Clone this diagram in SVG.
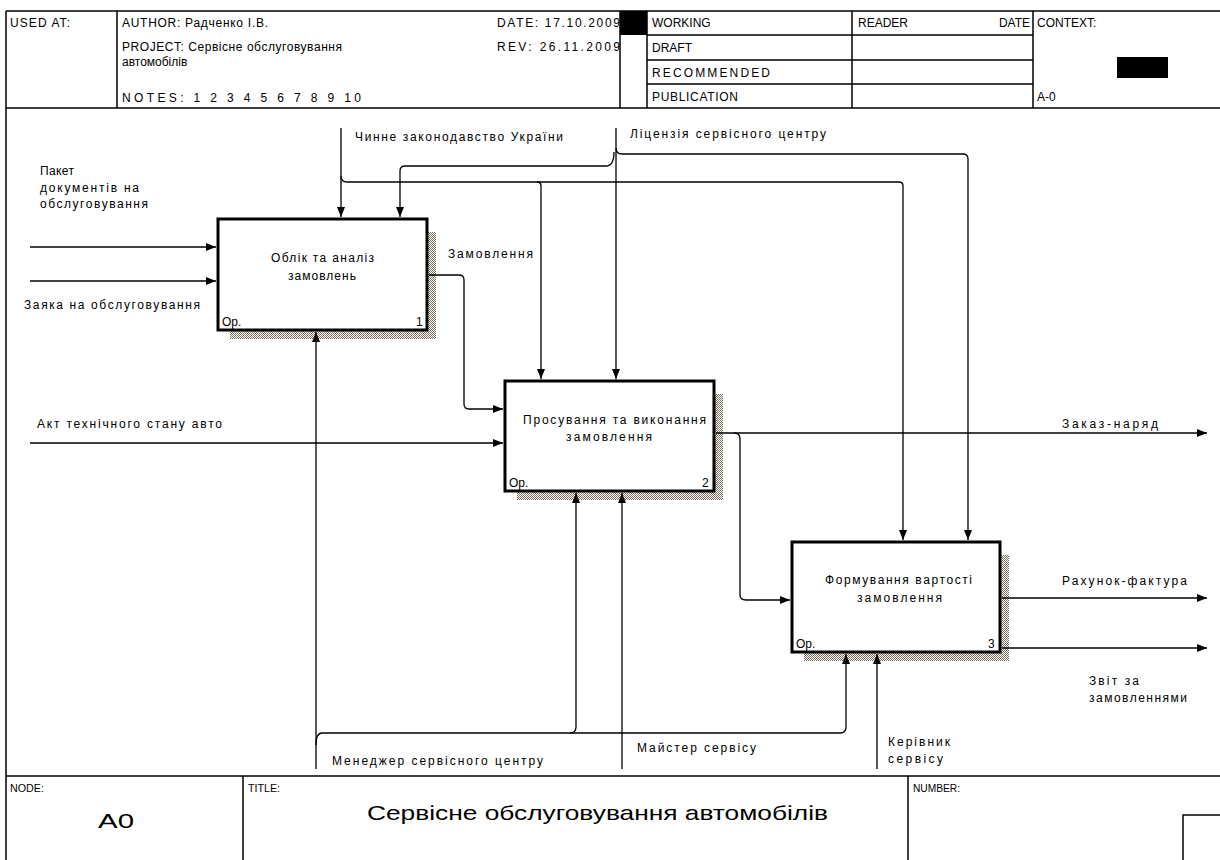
<svg xmlns="http://www.w3.org/2000/svg" width="1220" height="860" viewBox="0 0 1220 860">
<style>
text{font-family:"Liberation Sans",Arial,sans-serif;fill:#000;}
.h{font-size:12px;}
.t{font-size:12px;}
.f{font-size:10px;}
.frame{fill:none;stroke:#000;stroke-width:1.5;}
.box{fill:#fff;stroke:#000;stroke-width:3;}
.sh{fill:url(#hatch);}
.c{fill:none;stroke:#000;stroke-width:1.3;}
.a{marker-end:url(#arr);}
</style>
<defs>
<pattern id="hatch" width="2" height="2" patternUnits="userSpaceOnUse">
<rect width="2" height="2" fill="#fff"/>
<rect x="0" y="0" width="1" height="1" fill="#7d7262"/>
<rect x="1" y="1" width="1" height="1" fill="#7d7262"/>
</pattern>
<marker id="arr" viewBox="0 0 10 8" refX="10" refY="4" markerWidth="10" markerHeight="8" markerUnits="userSpaceOnUse" orient="auto">
<path d="M0,0 L10,4 L0,8 Z" fill="#000"/>
</marker>
</defs>
<rect width="1220" height="860" fill="#fff"/>

<g id="header">
<path class="frame" d="M6,11 H1220 M6,108 H1220 M6,11 V860 M117,11 V108 M620,11 V108 M647,11 V108 M852,11 V108 M1033,11 V108 M647,35 H1033 M647,60 H1033 M647,84 H1033"/>
<rect x="620" y="11" width="27" height="24" fill="#000"/>
<rect x="1117" y="57" width="51" height="21" fill="#000"/>
<text class="h" x="10" y="27" textLength="60" lengthAdjust="spacing">USED AT:</text>
<text class="h" x="122" y="27" textLength="146" lengthAdjust="spacing">AUTHOR:  Радченко І.В.</text>
<text class="h" x="122" y="51" textLength="220" lengthAdjust="spacing">PROJECT:  Сервісне обслуговування</text>
<text class="h" x="122" y="66">автомобілів</text>
<text class="h" x="122" y="102" textLength="239" lengthAdjust="spacing">NOTES:  1  2  3  4  5  6  7  8  9  10</text>
<text class="h" x="497" y="27" textLength="123" lengthAdjust="spacing">DATE: 17.10.2009</text>
<text class="h" x="497" y="51" textLength="123" lengthAdjust="spacing">REV:   26.11.2009</text>
<text class="h" x="652" y="27">WORKING</text>
<text class="h" x="652" y="52">DRAFT</text>
<text class="h" x="652" y="77" textLength="118" lengthAdjust="spacing">RECOMMENDED</text>
<text class="h" x="652" y="101" textLength="86" lengthAdjust="spacing">PUBLICATION</text>
<text class="h" x="858" y="27">READER</text>
<text class="h" x="1030" y="27" text-anchor="end">DATE</text>
<text class="h" x="1037" y="27">CONTEXT:</text>
<text class="h" x="1037" y="101">A-0</text>
</g>

<g id="footer">
<path class="frame" d="M6,776 H1220 M243,776 V860 M908,776 V860 M1183,860 V815 H1220"/>
<text class="f" x="10" y="792" textLength="34" lengthAdjust="spacingAndGlyphs">NODE:</text>
<text class="f" x="248" y="792" textLength="32" lengthAdjust="spacingAndGlyphs">TITLE:</text>
<text class="f" x="913" y="792" textLength="47" lengthAdjust="spacingAndGlyphs">NUMBER:</text>
<text x="98" y="828" style="font-size:20px" textLength="36" lengthAdjust="spacingAndGlyphs">A0</text>
<text x="367" y="820" style="font-size:21px" textLength="461" lengthAdjust="spacingAndGlyphs">Сервісне обслуговування автомобілів</text>
</g>

<g id="node1">
<path class="sh" d="M428,232 H436 V339 H230 V331 H428 Z"/>
<rect class="box" x="218" y="219" width="209" height="111"/>
<text class="t" x="271" y="262" textLength="103" lengthAdjust="spacing">Облік та аналіз</text>
<text class="t" x="288" y="280" textLength="68" lengthAdjust="spacing">замовлень</text>
<text class="t" x="222" y="326">Op.</text>
<text class="t" x="416" y="326">1</text>
</g>

<g id="node2">
<path class="sh" d="M715,394 H723 V500 H517 V492 H715 Z"/>
<rect class="box" x="505" y="381" width="209" height="110"/>
<text class="t" x="523" y="424" textLength="183" lengthAdjust="spacing">Просування та виконання</text>
<text class="t" x="566" y="441" textLength="86" lengthAdjust="spacing">замовлення</text>
<text class="t" x="509" y="487">Op.</text>
<text class="t" x="702" y="487">2</text>
</g>

<g id="node3">
<path class="sh" d="M1001,555 H1009 V661 H804 V653 H1001 Z"/>
<rect class="box" x="792" y="542" width="208" height="110"/>
<text class="t" x="825" y="584" textLength="147" lengthAdjust="spacing">Формування вартості</text>
<text class="t" x="857" y="602" textLength="85" lengthAdjust="spacing">замовлення</text>
<text class="t" x="796" y="648">Op.</text>
<text class="t" x="988" y="648">3</text>
</g>

<g id="connectors">
<path class="c a" d="M30,247 H216"/>
<path class="c a" d="M30,281 H216"/>
<path class="c a" d="M341,128 V217"/>
<path class="c" d="M341,176 Q341,182 347,182 H537 Q541,182 541,186"/>
<path class="c a" d="M541,186 V379"/>
<path class="c" d="M537,182 H899 Q903,182 903,186"/>
<path class="c a" d="M903,186 V540"/>
<path class="c a" d="M616,128 V379"/>
<path class="c" d="M616,148 Q616,154 622,154 H963 Q968,154 968,159"/>
<path class="c a" d="M968,159 V540"/>
<path class="c" d="M614,152 Q614,166 606,166 H405 Q400,166 400,171"/>
<path class="c a" d="M400,171 V217"/>
<path class="c" d="M429,275 H459 Q464,275 464,280 V404 Q464,409 469,409"/>
<path class="c a" d="M469,409 H503"/>
<path class="c a" d="M30,443 H503"/>
<path class="c a" d="M716,433 H1207"/>
<path class="c" d="M734,433 Q740,433 740,439 V595 Q740,600 746,600"/>
<path class="c a" d="M746,600 H790"/>
<path class="c a" d="M1002,598 H1207"/>
<path class="c a" d="M1002,648 H1207"/>
<path class="c a" d="M316,769 V332"/>
<path class="c" d="M316,745 Q316,733 322,733 H570 Q576,733 576,727"/>
<path class="c a" d="M576,727 V493"/>
<path class="c" d="M570,733 H840 Q846,733 846,727"/>
<path class="c a" d="M846,727 V654"/>
<path class="c a" d="M622,769 V493"/>
<path class="c a" d="M877,769 V654"/>
</g>

<g id="labels">
<text class="t" x="355" y="141" textLength="208" lengthAdjust="spacing">Чинне законодавство України</text>
<text class="t" x="630" y="138" textLength="196" lengthAdjust="spacing">Ліцензія сервісного центру</text>
<text class="t" x="40" y="175" textLength="34" lengthAdjust="spacing">Пакет</text>
<text class="t" x="40" y="192" textLength="99" lengthAdjust="spacing">документів на</text>
<text class="t" x="40" y="208" textLength="108" lengthAdjust="spacing">обслуговування</text>
<text class="t" x="24" y="309" textLength="176" lengthAdjust="spacing">Заяка на обслуговування</text>
<text class="t" x="448" y="258" textLength="85" lengthAdjust="spacing">Замовлення</text>
<text class="t" x="37" y="428" textLength="185" lengthAdjust="spacing">Акт технічного стану авто</text>
<text class="t" x="1062" y="428" textLength="96" lengthAdjust="spacing">Заказ-наряд</text>
<text class="t" x="1062" y="585" textLength="125" lengthAdjust="spacing">Рахунок-фактура</text>
<text class="t" x="1089" y="685" textLength="50" lengthAdjust="spacing">Звіт за</text>
<text class="t" x="1089" y="702" textLength="98" lengthAdjust="spacing">замовленнями</text>
<text class="t" x="332" y="765" textLength="211" lengthAdjust="spacing">Менеджер сервісного центру</text>
<text class="t" x="637" y="752" textLength="119" lengthAdjust="spacing">Майстер сервісу</text>
<text class="t" x="888" y="746" textLength="62" lengthAdjust="spacing">Керівник</text>
<text class="t" x="888" y="763" textLength="55" lengthAdjust="spacing">сервісу</text>
</g>
</svg>
